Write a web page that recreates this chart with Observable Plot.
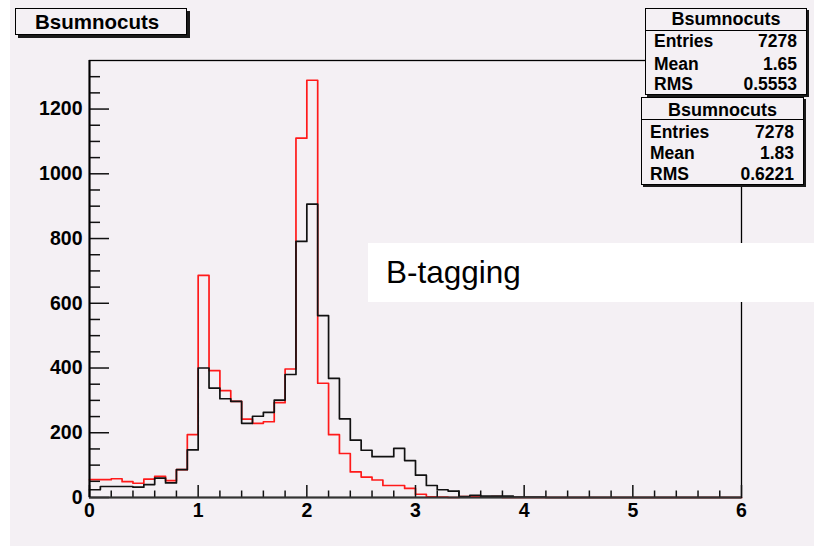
<!DOCTYPE html>
<html>
<head>
<meta charset="utf-8">
<script src="https://cdn.jsdelivr.net/npm/d3@7"></script>
<script src="https://cdn.jsdelivr.net/npm/@observablehq/plot@0.6"></script>
<style>
  body { margin: 0; background: #ffffff; }
  #wrap { position: relative; width: 814px; height: 550px; overflow: hidden;
          font-family: "Liberation Sans", Arial, Helvetica, sans-serif; color: #000; }
  #bg { position: absolute; left: 10px; top: 0; width: 804px; height: 546px; background: #f4f0f4; }
  #chart { position: absolute; left: 0; top: 0; }
  .box { position: absolute; background: #f4f0f4; border: 1px solid #000;
         box-shadow: 2px 2px 0 #1a1a1a; font-weight: bold; font-size: 17.5px; box-sizing: border-box; }
  .row { position: absolute; height: 20px; line-height: 20px; white-space: nowrap; }
  .head { font-size: 18px; }
  .sep { position: absolute; left: 0; right: 0; height: 0; border-top: 1px solid #000; }
  #title { position: absolute; left: 15px; top: 8px; width: 172px; height: 27px; background: #f4f0f4;
           border: 1px solid #000; box-shadow: 3px 3px 0 #1a1a1a; box-sizing: border-box;
           font-weight: bold; font-size: 20.5px; line-height: 25px; padding-left: 19px; }
  #note { position: absolute; left: 368px; top: 243px; width: 446px; height: 59px; background: #ffffff;
          font-size: 31.5px; line-height: 59px; padding-left: 18px; box-sizing: border-box; }
</style>
</head>
<body>
<div id="wrap">
  <div id="bg"></div>
  <div id="chart"></div>
  <div id="title"></div>
  <div id="note"></div>
</div>
<script>
// ---- data ----
const histName = "Bsumnocuts";
const noteText = "B-tagging";
const statLabels = ["Entries", "Mean", "RMS"];
const redStats = ["7278", "1.65", "0.5553"];
const blackStats = ["7278", "1.83", "0.6221"];

// bin lower edges, width 0.1 on [0, 6]
const binLow = d3.range(60).map(i => i / 10);

const redCounts = [
  55, 55, 58, 49, 44, 57, 65, 52, 86, 194,
  686, 392, 330, 297, 242, 229, 234, 293, 397, 1110,
  1289, 353, 194, 136, 79, 63, 54, 37, 37, 28,
  10, 2, 1, 0, 3, 3, 1, 3, 0, 0,
  0, 0, 0, 0, 0, 0, 0, 0, 0, 0,
  0, 0, 0, 0, 0, 0, 0, 0, 0, 0
];
const blackCounts = [
  24, 34, 34, 34, 32, 40, 60, 45, 86, 147,
  400, 338, 305, 297, 229, 251, 263, 301, 380, 791,
  906, 562, 368, 243, 177, 146, 126, 126, 152, 114,
  69, 37, 24, 20, 3, 7, 4, 4, 4, 1,
  1, 1, 0, 0, 0, 0, 0, 0, 0, 0,
  0, 0, 0, 0, 0, 0, 0, 0, 0, 0
];

const xMajor = [0, 1, 2, 3, 4, 5, 6];
const xMinor = d3.range(30).map(i => i / 5).filter(v => !Number.isInteger(v));
const yMajor = [0, 200, 400, 600, 800, 1000, 1200];
const yMinor = d3.range(1, 27).map(i => i * 50).filter(v => v % 200 !== 0);

function steps(counts) {
  const pts = binLow.map((x, i) => ({x, y: counts[i]}));
  pts.push({x: 6, y: counts[counts.length - 1]});
  return pts;
}

const W = 814, H = 550, mL = 89, mR = 73, mT = 60, mB = 53;
const frameW = W - mL - mR, frameH = H - mT - mB;

const chart = Plot.plot({
  width: W, height: H,
  marginLeft: mL, marginRight: mR, marginTop: mT, marginBottom: mB,
  style: {background: "transparent", fontFamily: "Liberation Sans, Arial, sans-serif",
          fontSize: "19.5px", fontWeight: "bold", color: "#000"},
  x: {domain: [0, 6]},
  y: {domain: [0, 1350]},
  marks: [
    Plot.frame({stroke: "#000", strokeWidth: 1.3}),
    Plot.line(steps(redCounts), {x: "x", y: "y", curve: "step-after", stroke: "#ff1a1a", strokeWidth: 1.7}),
    Plot.line(steps(blackCounts), {x: "x", y: "y", curve: "step-after", stroke: "#111", strokeWidth: 1.7}),
    // inward ticks
    Plot.ruleX(xMajor, {stroke: "#111", strokeWidth: 1.5, insetTop: frameH - 12}),
    Plot.ruleX(xMinor, {stroke: "#111", strokeWidth: 1.5, insetTop: frameH - 6.5}),
    Plot.ruleY(yMajor, {stroke: "#111", strokeWidth: 1.5, insetRight: frameW - 20}),
    Plot.ruleY(yMinor, {stroke: "#111", strokeWidth: 1.5, insetRight: frameW - 11}),
    Plot.ruleY([0], {stroke: "#333", strokeWidth: 2}),
    Plot.ruleX([0], {stroke: "#000", strokeWidth: 2}),
    Plot.axisX(xMajor, {tickSize: 0, tickPadding: 6, tickFormat: d => String(d), label: null,
                        fontSize: 19.5, fontWeight: "bold"}),
    Plot.axisY(yMajor, {tickSize: 0, tickPadding: 7, tickFormat: d => String(d), label: null,
                        fontSize: 19.5, fontWeight: "bold"})
  ]
});
document.getElementById("chart").appendChild(chart);

// ---- overlays: title, stat boxes, note ----
document.getElementById("title").textContent = histName;
document.getElementById("note").textContent = noteText;

function statBox(left, top, width, height, sepY, headY, rowYs, labelX, valueR, values) {
  const b = document.createElement("div");
  b.className = "box";
  Object.assign(b.style, {left: left + "px", top: top + "px", width: width + "px", height: height + "px"});
  const head = document.createElement("div");
  head.className = "row head";
  Object.assign(head.style, {left: 0, right: 0, top: (headY - top - 10) + "px", textAlign: "center"});
  head.textContent = histName;
  b.appendChild(head);
  const sep = document.createElement("div");
  sep.className = "sep";
  sep.style.top = (sepY - top - 1) + "px";
  b.appendChild(sep);
  statLabels.forEach((lab, i) => {
    const l = document.createElement("div");
    l.className = "row";
    Object.assign(l.style, {left: (labelX - left) + "px", top: (rowYs[i] - top - 10) + "px"});
    l.textContent = lab;
    const v = document.createElement("div");
    v.className = "row";
    Object.assign(v.style, {right: (left + width - valueR - 1) + "px", top: (rowYs[i] - top - 10) + "px"});
    v.textContent = values[i];
    b.appendChild(l); b.appendChild(v);
  });
  document.getElementById("wrap").appendChild(b);
}
statBox(645, 8, 162, 87, 30, 18, [40, 63, 83], 653, 797, redStats);
statBox(641, 97, 163, 88, 119, 109, [131, 152, 173], 649, 794, blackStats);
</script>
</body>
</html>
